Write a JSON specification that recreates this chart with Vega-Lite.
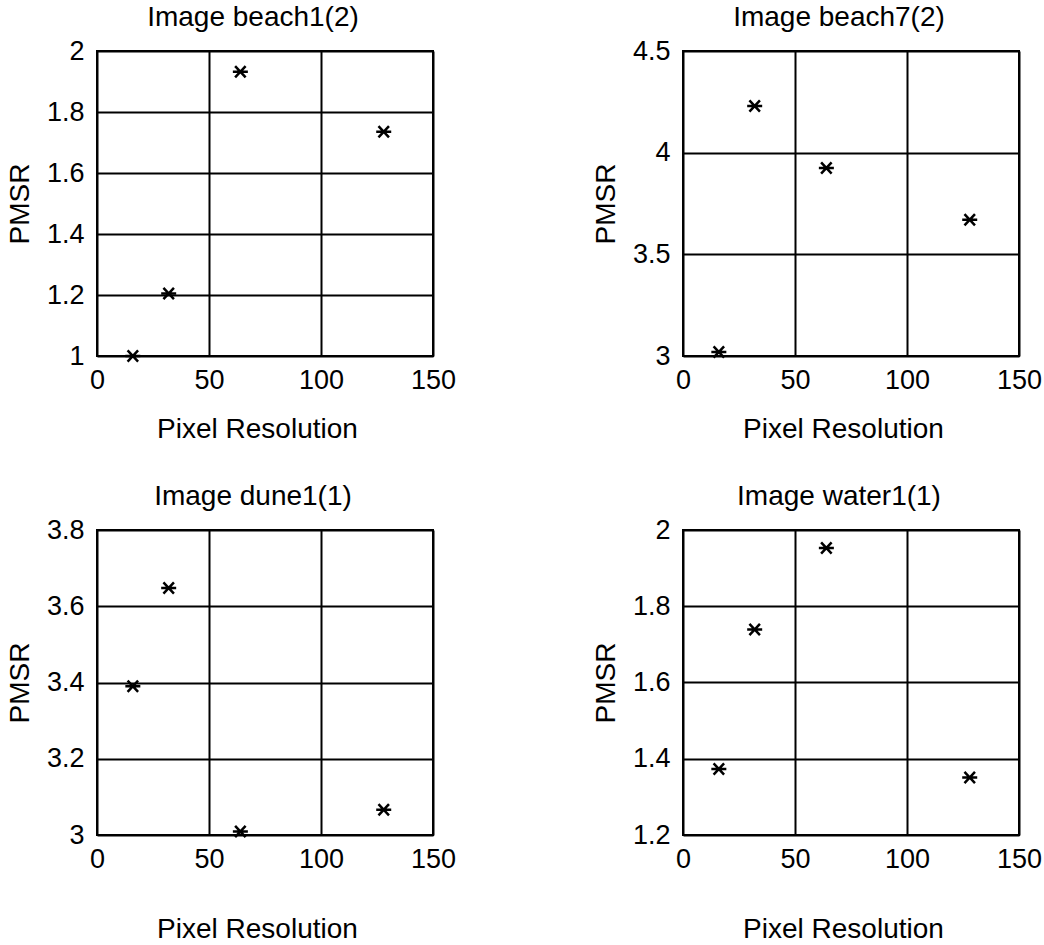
{
  "$schema": "https://vega.github.io/schema/vega-lite/v6.json",
  "background": "white",
  "padding": {"left": 5, "top": 3, "right": 0, "bottom": 0},
  "datasets": {
    "beach1": [
      {"res": 16, "pmsr": 1.0},
      {"res": 32, "pmsr": 1.205},
      {"res": 64, "pmsr": 1.932},
      {"res": 128, "pmsr": 1.735}
    ],
    "beach7": [
      {"res": 16, "pmsr": 3.02},
      {"res": 32, "pmsr": 4.23},
      {"res": 64, "pmsr": 3.925},
      {"res": 128, "pmsr": 3.67}
    ],
    "dune1": [
      {"res": 16, "pmsr": 3.39},
      {"res": 32, "pmsr": 3.648},
      {"res": 64, "pmsr": 3.009},
      {"res": 128, "pmsr": 3.066}
    ],
    "water1": [
      {"res": 16, "pmsr": 1.373},
      {"res": 32, "pmsr": 1.739},
      {"res": 64, "pmsr": 1.953},
      {"res": 128, "pmsr": 1.351}
    ]
  },
  "vconcat": [
    {
      "hconcat": [
        {
          "width": 336, "height": 305,
          "title": "Image beach1(2)",
          "data": {"name": "beach1"},
          "mark": {"type": "point", "shape": "M-1,0L1,0M-0.7,-0.75L0.7,0.75M-0.7,0.75L0.7,-0.75", "stroke": "black", "strokeWidth": 2.5, "size": 225, "filled": false, "opacity": 1, "clip": false},
          "encoding": {
            "x": {"field": "res", "type": "quantitative", "scale": {"domain": [0, 150], "nice": false, "zero": false}, "axis": {"values": [0, 50, 100, 150], "title": "Pixel Resolution", "titlePadding": 22}},
            "y": {"field": "pmsr", "type": "quantitative", "scale": {"domain": [1, 2], "nice": false, "zero": false}, "axis": {"values": [1, 1.2, 1.4, 1.6, 1.8, 2], "title": "PMSR"}}
          }
        },
        {
          "width": 336, "height": 305,
          "title": "Image beach7(2)",
          "data": {"name": "beach7"},
          "mark": {"type": "point", "shape": "M-1,0L1,0M-0.7,-0.75L0.7,0.75M-0.7,0.75L0.7,-0.75", "stroke": "black", "strokeWidth": 2.5, "size": 225, "filled": false, "opacity": 1, "clip": false},
          "encoding": {
            "x": {"field": "res", "type": "quantitative", "scale": {"domain": [0, 150], "nice": false, "zero": false}, "axis": {"values": [0, 50, 100, 150], "title": "Pixel Resolution", "titlePadding": 22}},
            "y": {"field": "pmsr", "type": "quantitative", "scale": {"domain": [3, 4.5], "nice": false, "zero": false}, "axis": {"values": [3, 3.5, 4, 4.5], "title": "PMSR"}}
          }
        }
      ]
    },
    {
      "hconcat": [
        {
          "width": 336, "height": 305,
          "title": "Image dune1(1)",
          "data": {"name": "dune1"},
          "mark": {"type": "point", "shape": "M-1,0L1,0M-0.7,-0.75L0.7,0.75M-0.7,0.75L0.7,-0.75", "stroke": "black", "strokeWidth": 2.5, "size": 225, "filled": false, "opacity": 1, "clip": false},
          "encoding": {
            "x": {"field": "res", "type": "quantitative", "scale": {"domain": [0, 150], "nice": false, "zero": false}, "axis": {"values": [0, 50, 100, 150], "title": "Pixel Resolution", "titlePadding": 43}},
            "y": {"field": "pmsr", "type": "quantitative", "scale": {"domain": [3, 3.8], "nice": false, "zero": false}, "axis": {"values": [3, 3.2, 3.4, 3.6, 3.8], "title": "PMSR"}}
          }
        },
        {
          "width": 336, "height": 305,
          "title": "Image water1(1)",
          "data": {"name": "water1"},
          "mark": {"type": "point", "shape": "M-1,0L1,0M-0.7,-0.75L0.7,0.75M-0.7,0.75L0.7,-0.75", "stroke": "black", "strokeWidth": 2.5, "size": 225, "filled": false, "opacity": 1, "clip": false},
          "encoding": {
            "x": {"field": "res", "type": "quantitative", "scale": {"domain": [0, 150], "nice": false, "zero": false}, "axis": {"values": [0, 50, 100, 150], "title": "Pixel Resolution", "titlePadding": 43}},
            "y": {"field": "pmsr", "type": "quantitative", "scale": {"domain": [1.2, 2], "nice": false, "zero": false}, "axis": {"values": [1.2, 1.4, 1.6, 1.8, 2], "title": "PMSR"}}
          }
        }
      ]
    }
  ],
  "spacing": 38,
  "config": {
    "concat": {"spacing": 134},
    "view": {"stroke": "black", "strokeWidth": 2},
    "axis": {
      "grid": true, "gridColor": "black", "gridOpacity": 1, "gridWidth": 2,
      "domain": false, "ticks": false,
      "labelFont": "Liberation Sans", "labelFontSize": 27, "labelColor": "black", "labelPadding": 11,
      "labelFlush": false, "labelOverlap": false,
      "titleFont": "Liberation Sans", "titleFontSize": 28, "titleFontWeight": "normal", "titleColor": "black", "titlePadding": 12
    },
    "axisX": {"titleX": 160, "format": "d"},
    "axisY": {"format": "~r", "labelPadding": 13},
    "title": {"font": "Liberation Sans", "fontSize": 28, "fontWeight": "normal", "color": "black", "offset": 5, "dx": -12}
  }
}
